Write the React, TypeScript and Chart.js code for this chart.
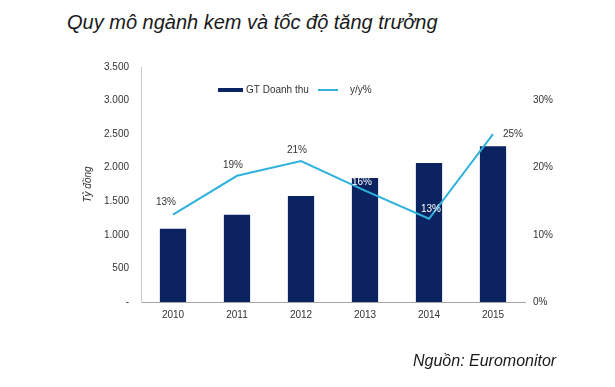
import React, { useEffect, useRef } from 'react';
import { Chart, registerables } from 'chart.js';

Chart.register(...registerables);

const years = ['2010', '2011', '2012', '2013', '2014', '2015'];
const revenue = [1090, 1300, 1580, 1845, 2070, 2320];
const growth = [13.0, 18.8, 21.0, 16.6, 12.4, 25.0];
const growthLabels = ['13%', '19%', '21%', '16%', '13%', '25%'];
const leftTickValues = [0, 500, 1000, 1500, 2000, 2500, 3000, 3500];
const rightTickValues = [0, 10, 20, 30];
const seriesNames = ['GT Doanh thu', 'y/y%'];

// styling (label offsets relative to each point, label colours)
const labelOffsets: [number, number][] = [[-7, -12], [-4, -11], [-4, -11], [-3, -8], [2, -9], [20, 0]];
const labelColors = ['#333333', '#333333', '#333333', '#ffffff', '#ffffff', '#333333'];

const NAVY = '#0b2461';
const CYAN = '#2fb2dc';
const FONT = '"Liberation Sans", Arial, sans-serif';

const fmtThousands = (v: number) =>
  v === 0 ? '-' : String(v).replace(/\B(?=(\d{3})+(?!\d))/g, '.');

export default function App() {
  const ref = useRef<HTMLCanvasElement | null>(null);

  useEffect(() => {
    if (!ref.current) return;

    const overlay = {
      id: 'overlay',
      afterDatasetsDraw(chart: any) {
        const ctx = chart.ctx;
        const meta = chart.getDatasetMeta(1);
        ctx.save();
        ctx.font = `10px ${FONT}`;
        ctx.textAlign = 'center';
        ctx.textBaseline = 'middle';
        meta.data.forEach((pt: any, i: number) => {
          const [dx, dy] = labelOffsets[i];
          ctx.fillStyle = labelColors[i];
          ctx.fillText(growthLabels[i], pt.x + dx, pt.y + dy);
        });
        // legend
        const ca = chart.chartArea;
        const ly = ca.top + 23;
        const lx = ca.left + 77;
        ctx.fillStyle = NAVY;
        ctx.fillRect(lx, ly - 2, 25, 4);
        ctx.fillStyle = '#333333';
        ctx.textAlign = 'left';
        ctx.fillText(seriesNames[0], lx + 28, ly);
        ctx.strokeStyle = CYAN;
        ctx.lineWidth = 2;
        ctx.beginPath();
        ctx.moveTo(lx + 100, ly);
        ctx.lineTo(lx + 120, ly);
        ctx.stroke();
        ctx.fillText(seriesNames[1], lx + 132, ly);
        ctx.restore();
      },
    };

    const chart = new Chart(ref.current, {
      type: 'bar',
      data: {
        labels: years,
        datasets: [
          {
            type: 'bar',
            label: seriesNames[0],
            data: revenue,
            backgroundColor: NAVY,
            yAxisID: 'y',
            categoryPercentage: 1,
            barPercentage: 0.41,
            order: 2,
          },
          {
            type: 'line',
            label: seriesNames[1],
            data: growth,
            borderColor: CYAN,
            backgroundColor: CYAN,
            borderWidth: 2,
            pointRadius: 0,
            tension: 0,
            yAxisID: 'y1',
            order: 1,
          },
        ] as any,
      },
      options: {
        animation: false,
        responsive: false,
        layout: { padding: { left: 76, right: 0, top: 67, bottom: 60 } },
        plugins: {
          legend: { display: false },
          tooltip: { enabled: false },
        },
        scales: {
          x: {
            grid: { display: false, drawTicks: false },
            border: { display: true, color: '#a6a6a6', width: 1 },
            ticks: { color: '#333333', font: { family: FONT, size: 10 }, padding: 7 },
            afterFit: (s: any) => { s.height = 25; },
          },
          y: {
            position: 'left',
            min: 0,
            max: 3500,
            grid: { display: false, drawTicks: false },
            border: { display: true, color: '#c8c8c8', width: 1 },
            afterBuildTicks: (s: any) => { s.ticks = leftTickValues.map((v) => ({ value: v })); },
            ticks: {
              color: '#333333',
              font: { family: FONT, size: 10 },
              padding: 12,
              callback: (v: any) => fmtThousands(Number(v)),
            },
            title: {
              display: true,
              text: 'Tỷ đồng',
              color: '#333333',
              font: { family: FONT, size: 10, style: 'italic' },
              padding: { top: 6, bottom: 0 },
            },
            afterFit: (s: any) => { s.width = 65; },
          },
          y1: {
            position: 'right',
            min: 0,
            max: 35,
            grid: { display: false, drawTicks: false },
            border: { display: false },
            afterBuildTicks: (s: any) => { s.ticks = rightTickValues.map((v) => ({ value: v })); },
            ticks: {
              color: '#333333',
              font: { family: FONT, size: 10 },
              padding: 8,
              callback: (v: any) => `${v}%`,
            },
            afterFit: (s: any) => { s.width = 90; },
          },
        },
      },
      plugins: [overlay],
    });

    return () => chart.destroy();
  }, []);

  return (
    <div style={{ position: 'fixed', left: 0, top: 0, width: 615, height: 387, background: '#ffffff', overflow: 'hidden' }}>
      <div
        style={{
          position: 'absolute', left: 67, top: 12, fontFamily: FONT, fontStyle: 'italic',
          fontSize: 20, lineHeight: '20px', color: '#1a1a1a', whiteSpace: 'nowrap',
        }}
      >
        Quy mô ngành kem và tốc độ tăng trưởng
      </div>
      <canvas ref={ref} width={615} height={387} style={{ position: 'absolute', left: 0, top: 0 }} />
      <div
        style={{
          position: 'absolute', left: 413, top: 353, fontFamily: FONT, fontStyle: 'italic',
          fontSize: 16, lineHeight: '16px', color: '#1a1a1a', whiteSpace: 'nowrap',
        }}
      >
        Nguồn: Euromonitor
      </div>
    </div>
  );
}
